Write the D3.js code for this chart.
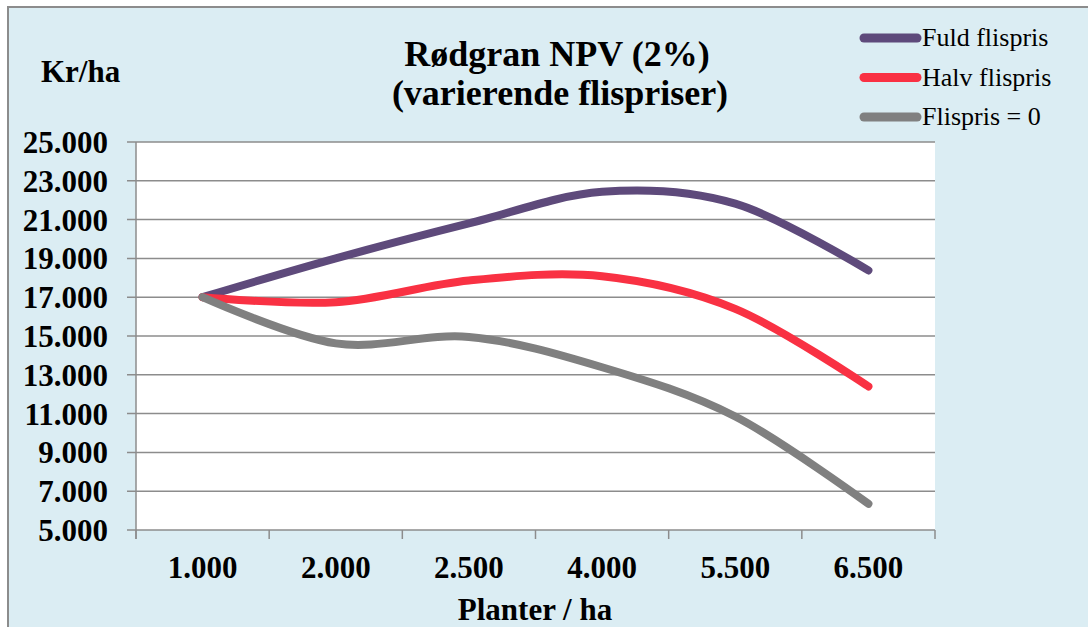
<!DOCTYPE html>
<html>
<head>
<meta charset="utf-8">
<script src="https://cdn.jsdelivr.net/npm/d3@7"></script>
<style>
  body { margin: 0; background: #fff; }
  svg { display: block; font-family: "Liberation Serif", "Times New Roman", serif; }
</style>
</head>
<body>
<div id="chart"></div>
<script>
(function() {

  var categories = ["1.000", "2.000", "2.500", "4.000", "5.500", "6.500"];
  var fuld  = [17000, 19000, 20800, 22430, 21820, 18380];
  var halv  = [17000, 16740, 17860, 18080, 16400, 12400];
  var nul   = [17000, 14620, 14950, 13390, 10850, 6350];
  var seriesNames = ["Fuld flispris", "Halv flispris", "Flispris = 0"];
  var seriesColors = ["#5e4a7b", "#f93143", "#808080"];
  var yTicks = [5000, 7000, 9000, 11000, 13000, 15000, 17000, 19000, 21000, 23000, 25000];

  var width = 1088,
      height = 627,
      plot = {left: 136, right: 935, top: 142, bottom: 530};

  var locale = d3.formatLocale({decimal: ",", thousands: ".", grouping: [3], currency: ["", " kr"]}),
      fmt = locale.format(",.0f");

  var svg = d3.select("#chart").append("svg")
      .attr("width", width)
      .attr("height", height);

  svg.append("rect")
      .attr("x", 8)
      .attr("y", 7)
      .attr("width", width + 20)
      .attr("height", height + 20)
      .attr("fill", "#dbedf3")
      .attr("stroke", "#8c8c8c")
      .attr("stroke-width", 2);

  var x = d3.scaleBand()
      .domain(categories)
      .range([plot.left, plot.right]);

  var y = d3.scaleLinear()
      .domain([5000, 25000])
      .range([plot.bottom, plot.top]);

  svg.append("rect")
      .attr("x", plot.left)
      .attr("y", plot.top)
      .attr("width", plot.right - plot.left)
      .attr("height", plot.bottom - plot.top)
      .attr("fill", "#fff");

  // grid
  svg.append("g").selectAll("line")
      .data(yTicks)
    .join("line")
      .attr("x1", plot.left - 9)
      .attr("x2", plot.right)
      .attr("y1", function(d) { return y(d); })
      .attr("y2", function(d) { return y(d); })
      .attr("stroke", "#8c8c8c")
      .attr("stroke-width", 1.5);

  // y axis line
  svg.append("line")
      .attr("x1", plot.left).attr("x2", plot.left)
      .attr("y1", plot.top).attr("y2", plot.bottom + 9)
      .attr("stroke", "#8c8c8c")
      .attr("stroke-width", 1.5);

  // x tick marks at band edges
  var edges = categories.map(function(c) { return x(c); }).concat([plot.right]);
  svg.append("g").selectAll("line")
      .data(edges)
    .join("line")
      .attr("x1", function(d) { return d; })
      .attr("x2", function(d) { return d; })
      .attr("y1", plot.bottom)
      .attr("y2", plot.bottom + 9)
      .attr("stroke", "#8c8c8c")
      .attr("stroke-width", 1.5);

  // y labels
  svg.append("g").selectAll("text")
      .data(yTicks)
    .join("text")
      .attr("x", 108)
      .attr("y", function(d) { return y(d) + 11; })
      .attr("text-anchor", "end")
      .attr("font-size", 31)
      .attr("font-weight", "bold")
      .text(fmt);

  // x labels
  svg.append("g").selectAll("text")
      .data(categories)
    .join("text")
      .attr("x", function(d) { return x(d) + x.bandwidth() / 2; })
      .attr("y", 578)
      .attr("text-anchor", "middle")
      .attr("font-size", 31)
      .attr("font-weight", "bold")
      .text(function(d) { return d; });

  svg.append("text")
      .attr("x", 535)
      .attr("y", 620)
      .attr("text-anchor", "middle")
      .attr("font-size", 31)
      .attr("font-weight", "bold")
      .text("Planter / ha");

  svg.append("text")
      .attr("x", 41)
      .attr("y", 82)
      .attr("font-size", 31)
      .attr("font-weight", "bold")
      .text("Kr/ha");

  svg.append("text")
      .attr("x", 557)
      .attr("y", 66)
      .attr("text-anchor", "middle")
      .attr("font-size", 36)
      .attr("font-weight", "bold")
      .text("Rødgran NPV (2%)");

  svg.append("text")
      .attr("x", 560)
      .attr("y", 105)
      .attr("text-anchor", "middle")
      .attr("font-size", 36)
      .attr("font-weight", "bold")
      .text("(varierende flispriser)");

  // lines
  var line = d3.line()
      .x(function(d, i) { return x(categories[i]) + x.bandwidth() / 2; })
      .y(function(d) { return y(d); })
      .curve(d3.curveCatmullRom.alpha(0));

  var series = [fuld, halv, nul];

  svg.append("g").selectAll("path")
      .data(series)
    .join("path")
      .attr("d", line)
      .attr("fill", "none")
      .attr("stroke", function(d, i) { return seriesColors[i]; })
      .attr("stroke-width", 8)
      .attr("stroke-linecap", "round")
      .attr("stroke-linejoin", "round");

  // legend
  var legend = svg.append("g").selectAll("g")
      .data(seriesNames)
    .join("g")
      .attr("transform", function(d, i) { return "translate(0," + (38 + i * 39.5) + ")"; });

  legend.append("line")
      .attr("x1", 864)
      .attr("x2", 917)
      .attr("stroke", function(d, i) { return seriesColors[i]; })
      .attr("stroke-width", 9)
      .attr("stroke-linecap", "round");

  legend.append("text")
      .attr("x", 922)
      .attr("y", 8)
      .attr("font-size", 26)
      .text(function(d) { return d; });

})();
</script>
</body>
</html>
